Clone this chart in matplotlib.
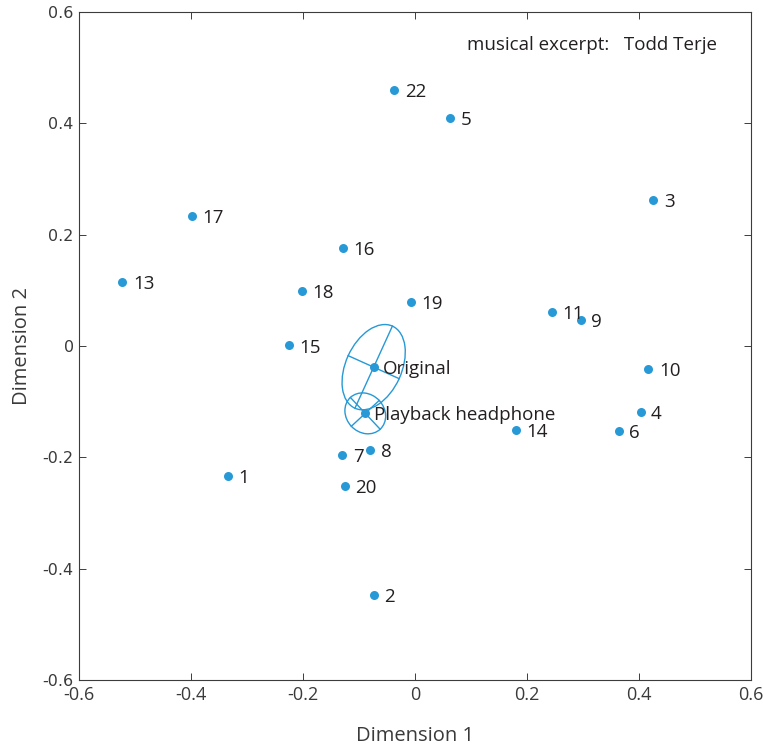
import numpy as np
import matplotlib
matplotlib.use("Agg")
import matplotlib.pyplot as plt
from matplotlib.patches import Ellipse
from matplotlib import font_manager

# Stimulus points in the 2-D perceptual space
labels = ["1", "2", "3", "4", "5", "6", "7", "8", "9", "10", "11",
          "13", "14", "15", "16", "17", "18", "19", "20", "22"]
dim1 = [-0.335, -0.074, 0.426, 0.403, 0.063, 0.364, -0.130, -0.080, 0.296, 0.417, 0.244,
        -0.523, 0.181, -0.226, -0.129, -0.398, -0.202, -0.008, -0.126, -0.037]
dim2 = [-0.234, -0.447, 0.262, -0.119, 0.410, -0.153, -0.195, -0.186, 0.047, -0.041, 0.061,
        0.115, -0.151, 0.001, 0.176, 0.234, 0.099, 0.079, -0.251, 0.460]

# Reference conditions with confidence ellipses
cond_names = ["Original", "Playback headphone"]
cond_x = [-0.074, -0.089]
cond_y = [-0.038, -0.121]
cond_semi_major = [0.081, 0.039]
cond_semi_minor = [0.050, 0.034]
cond_angle = [65.6, 133.0]

ticks = [-0.6, -0.4, -0.2, 0, 0.2, 0.4, 0.6]
tick_labels = ["-0.6", "-0.4", "-0.2", "0", "0.2", "0.4", "0.6"]

blue = "#2699D6"
text_col = "#231F20"
axis_col = "#3C3C3C"

available = {f.name for f in font_manager.fontManager.ttflist}
def pick(*names):
    for n in names:
        if n in available:
            return n
    return "DejaVu Sans"

narrow = pick("Liberation Sans Narrow", "Open Sans", "Lato")
body = pick("Open Sans", "Lato", "Noto Sans")

fig = plt.figure(figsize=(7.63, 7.47), dpi=100)
ax = fig.add_axes([0.104, 0.0897, 0.880, 0.8942])

ax.scatter(dim1, dim2, s=42, color=blue, zorder=3, linewidths=0)
for lx, ly, lab in zip(dim1, dim2, labels):
    ax.annotate(lab, (lx, ly), xytext=(7.5, -1.5), textcoords="offset points",
                ha="left", va="center", fontsize=13.5, family=body, color=text_col)

for cx, cy, a, b, ang, name in zip(cond_x, cond_y, cond_semi_major, cond_semi_minor,
                                   cond_angle, cond_names):
    ax.add_patch(Ellipse((cx, cy), 2 * a, 2 * b, angle=ang, fill=False,
                         edgecolor=blue, linewidth=1.0, zorder=2))
    t = np.deg2rad(ang)
    ux, uy = np.cos(t), np.sin(t)
    vx, vy = -np.sin(t), np.cos(t)
    ax.plot([cx - a * ux, cx + a * ux], [cy - a * uy, cy + a * uy], color=blue, lw=1.0, zorder=2)
    ax.plot([cx - b * vx, cx + b * vx], [cy - b * vy, cy + b * vy], color=blue, lw=1.0, zorder=2)
    ax.scatter([cx], [cy], s=42, color=blue, zorder=3, linewidths=0)
    ax.annotate(name, (cx, cy), xytext=(6.5, -1.5), textcoords="offset points",
                ha="left", va="center", fontsize=13.5, family=body, color=text_col)

ax.text(0.95, 0.951, "musical excerpt:   Todd Terje", transform=ax.transAxes,
        ha="right", va="center", fontsize=13.5, family=body, color=text_col)

ax.set_xlim(-0.6, 0.6)
ax.set_ylim(-0.6, 0.6)
ax.set_xticks(ticks)
ax.set_xticklabels(tick_labels, family=narrow, fontsize=13, color="#3A3A3A")
ax.set_yticks(ticks)
ax.set_yticklabels(tick_labels, family="DejaVu Sans", fontsize=11.5, color="#3A3A3A")
ax.tick_params(direction="in", length=5, width=0.7, color=axis_col, top=True, right=True, pad=4)
for sp in ax.spines.values():
    sp.set_color(axis_col)
    sp.set_linewidth(0.8)

ax.set_xlabel("Dimension 1", family=narrow, fontsize=14.5, color="#3A3A3A", labelpad=16)
ax.set_ylabel("Dimension 2", family=narrow, fontsize=14.5, color="#3A3A3A", labelpad=8)

fig.savefig("out.png", dpi=100)
